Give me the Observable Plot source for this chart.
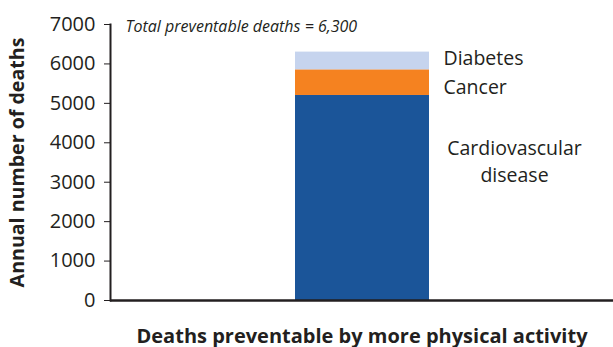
<!DOCTYPE html>
<html><head><meta charset="utf-8">
<script src="https://cdn.jsdelivr.net/npm/d3@7"></script>
<script src="https://cdn.jsdelivr.net/npm/@observablehq/plot@0.6"></script>
<style>
body{margin:0;background:#fff;}
#chart svg{font-family:"Open Sans",sans-serif;color:#231f20;}
g[aria-label="y-axis label"] text{font-weight:bold;font-size:19.6px;}
g[aria-label="x-axis label"] text{font-weight:bold;font-size:20px;}
</style></head><body><div id="chart"></div>
<script>
const category = "Deaths preventable by more physical activity";
const causes = ["Cardiovascular disease", "Cancer", "Diabetes"];
const deaths = [5200, 650, 450];
const causeLabels = ["Cardiovascular\ndisease", "Cancer", "Diabetes"];
const colors = ["#1b5599", "#f58220", "#c6d4ee"];
const yTicks = [0, 1000, 2000, 3000, 4000, 5000, 6000, 7000];
const yLabel = "Annual number of deaths";

const total = d3.sum(deaths);
const tops = d3.cumsum(deaths);
const rows = causes.map((c, i) => ({
  category, cause: c, deaths: deaths[i], label: causeLabels[i],
  mid: tops[i] - deaths[i] / 2
}));

const chart = Plot.plot({
  width: 613, height: 347,
  marginLeft: 110, marginRight: 0, marginTop: 24, marginBottom: 47,
  x: {domain: [category], padding: 0.58, axis: null},
  y: {domain: [0, 7000], ticks: yTicks},
  color: {domain: causes, range: colors},
  marks: [
    Plot.barY(rows, {x: "category", y: "deaths", fill: "cause"}),
    Plot.axisY({ticks: yTicks, tickSize: 6, tickPadding: 9, fontSize: 20, tickFormat: d => String(d),
      label: yLabel, labelAnchor: "center", labelArrow: "none", labelOffset: 100}),
    Plot.axisX({ticks: [], label: category, labelAnchor: "center", labelArrow: "none", labelOffset: 42, fontSize: 20}),
    Plot.frame({anchor: "left", stroke: "#231f20", strokeWidth: 2}),
    Plot.ruleY([0], {stroke: "#231f20", strokeWidth: 2.5}),
    Plot.text(rows.filter(d => d.cause === "Diabetes"), {x: "category", y: "mid", text: "label", textAnchor: "start", dx: 81, dy: -2, fontSize: 19.5, fill: "#231f20"}),
    Plot.text(rows.filter(d => d.cause === "Cancer"), {x: "category", y: "mid", text: "label", textAnchor: "start", dx: 81, dy: 5, fontSize: 19.5, fill: "#231f20"}),
    Plot.text(rows.filter(d => d.cause === "Cardiovascular disease"), {x: "category", y: "mid", text: "label", textAnchor: "middle", dx: 152, dy: -38, fontSize: 19.5, lineHeight: 1.35, fill: "#231f20"}),
    Plot.text([`Total preventable deaths = ${d3.format(",")(total)}`], {frameAnchor: "top-left", dx: 15, dy: -4, fontSize: 16, fontStyle: "italic", fill: "#231f20"})
  ]
});
document.getElementById("chart").append(chart);
</script></body></html>
